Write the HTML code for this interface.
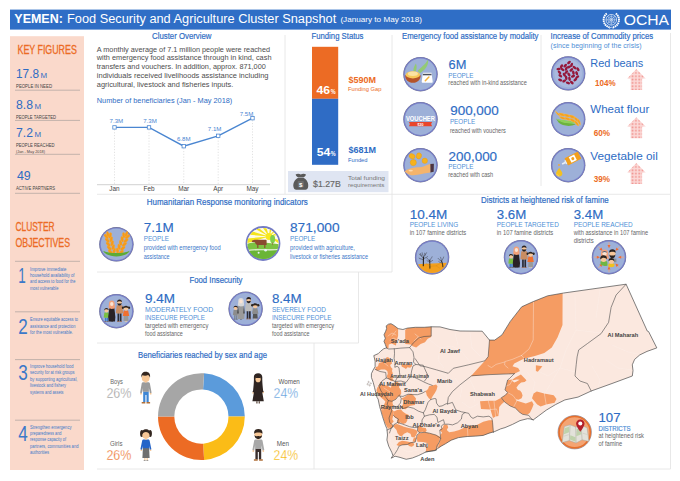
<!DOCTYPE html>
<html><head><meta charset="utf-8"><title>Yemen FSAC Snapshot</title>
<style>
html,body{margin:0;padding:0;background:#fff;}
body{width:680px;height:481px;overflow:hidden;font-family:"Liberation Sans",sans-serif;}
svg{display:block;font-family:"Liberation Sans",sans-serif;}
</style></head><body>
<svg width="680" height="481" viewBox="0 0 680 481">
<defs>
<pattern id="dots" width="1.43" height="1.43" patternUnits="userSpaceOnUse" shape-rendering="crispEdges">
  <rect width="1.43" height="1.43" fill="#fbd9d7"/>
  <rect x="0" y="0" width="1" height="1" fill="#f0918d"/>
</pattern>
<clipPath id="cc"><circle r="15.6"/></clipPath>
<g id="disc"><circle r="17.2" fill="#6f7088"/><circle r="16.9" fill="#787fc8"/><circle r="15.7" fill="#9db0d8"/></g>
<!-- up arrow, tip at (0,0), height 21 -->
<g id="uparrow"><path d="M0 0L9.2 9.4H5.7V21H-5.7V9.4H-9.2Z" fill="url(#dots)"/></g>

<!-- bowl / leaves / sack -->
<g id="i_food"><use href="#disc"/>
  <path d="M-3 -3.2C0 -7 5 -9.6 7.5 -14.8C8.6 -8.6 3.6 -3.6 -0.4 -1.2Z" fill="#93ca74"/>
  <path d="M-7.2 -3.4C-7.2 -6.5 -5.8 -9 -4.6 -10.8C-3.4 -8 -3.8 -5.4 -4.6 -3Z" fill="#93ca74"/>
  <path d="M-15.4 1H0.2C0.2 5.4 -3 8.6 -7.6 8.6C-12.2 8.6 -15.4 5.4 -15.4 1Z" fill="#b4532a"/>
  <ellipse cx="-7.6" cy="0.6" rx="7.2" ry="3.6" fill="#f7c95a"/>
  <ellipse cx="-7.6" cy="-0.4" rx="5" ry="2.2" fill="#fbe3a2"/>
  <path d="M2.4 -1.4H11L12.2 7.2C12.3 8.1 11.8 8.6 11 8.6H2.4C1.6 8.6 1.1 8.1 1.2 7.2Z" fill="#fff"/>
  <rect x="2.4" y="-0.4" width="8.6" height="1.5" fill="#4a4f5c"/>
  <path d="M4.8 6.6L8.4 2.8" stroke="#f5b23c" stroke-width="1.5" stroke-linecap="round"/>
</g>
<!-- voucher -->
<g id="i_voucher"><use href="#disc"/>
  <text x="-14.6" y="1.8" font-size="6.9" font-weight="bold" fill="#fff" textLength="29" lengthAdjust="spacingAndGlyphs">VOUCHER</text>
  <path d="M-11.6 2.7H11.6L10.6 4.9L11.6 7.1H-11.6L-10.6 4.9Z" fill="#e8452c"/>
  <text x="0" y="6.5" font-size="3.6" font-weight="bold" fill="#fff" text-anchor="middle">$20</text>
</g>
<!-- cash in hand -->
<g id="i_cash"><use href="#disc"/>
  <path d="M9.6 -1.2L13.4 -1.4L13.2 6.6L9.8 7.2Z" fill="#4b3542"/>
  <path d="M-15.8 6C-13 4.2 -9 2.6 -5.6 2.4C-2 2.2 0.6 2.2 3 1.4C5.4 0.4 7.6 -0.8 9.8 -1.2V7.2C6 8 1 8.6 -3 9.6C-6 10.4 -9 10.2 -11.4 9.2C-13.4 8.4 -15 7.4 -15.8 6Z" fill="#f4b46c"/>
  <ellipse cx="-9.8" cy="5.4" rx="2.2" ry="0.9" fill="#fbd9ad"/>
  <g fill="#f6b21c" stroke="#e79a12" stroke-width="0.4">
  <ellipse cx="-8.4" cy="-8.9" rx="3.1" ry="2.5" transform="rotate(25 -8.4 -8.9)"/>
  <ellipse cx="-1.6" cy="-9.3" rx="2.6" ry="3.1" transform="rotate(15 -1.6 -9.3)"/>
  <circle cx="-7.2" cy="-2.6" r="3.1"/>
  <circle cx="4.3" cy="-4.4" r="2.7"/></g>
</g>
<!-- red beans -->
<g id="i_beans"><use href="#disc"/><circle r="13.8" fill="#a9b9df"/>
  <g fill="#96183a"><ellipse cx="-7.9" cy="2.4" rx="2.2" ry="1.3" transform="rotate(39 -7.9 2.4)"/><ellipse cx="3.6" cy="9.2" rx="2.2" ry="1.3" transform="rotate(41 3.6 9.2)"/><ellipse cx="-6.7" cy="-7.1" rx="2.2" ry="1.3" transform="rotate(-56 -6.7 -7.1)"/><ellipse cx="-3.9" cy="1.4" rx="2.2" ry="1.3" transform="rotate(57 -3.9 1.4)"/><ellipse cx="3.4" cy="-8.5" rx="2.2" ry="1.3" transform="rotate(-70 3.4 -8.5)"/><ellipse cx="-5.7" cy="-3.9" rx="2.2" ry="1.3" transform="rotate(35 -5.7 -3.9)"/><ellipse cx="0.7" cy="1.1" rx="2.2" ry="1.3" transform="rotate(55 0.7 1.1)"/><ellipse cx="6.2" cy="-5.8" rx="2.2" ry="1.3" transform="rotate(38 6.2 -5.8)"/><ellipse cx="-3.9" cy="7.5" rx="2.2" ry="1.3" transform="rotate(-30 -3.9 7.5)"/><ellipse cx="-8.7" cy="-1.1" rx="2.2" ry="1.3" transform="rotate(47 -8.7 -1.1)"/><ellipse cx="4.8" cy="2.8" rx="2.2" ry="1.3" transform="rotate(-22 4.8 2.8)"/><ellipse cx="-2.0" cy="-4.7" rx="2.2" ry="1.3" transform="rotate(-67 -2.0 -4.7)"/><ellipse cx="9.1" cy="3.6" rx="2.2" ry="1.3" transform="rotate(-35 9.1 3.6)"/><ellipse cx="8.5" cy="-0.2" rx="2.2" ry="1.3" transform="rotate(67 8.5 -0.2)"/><ellipse cx="1.3" cy="5.4" rx="2.2" ry="1.3" transform="rotate(76 1.3 5.4)"/><ellipse cx="3.1" cy="-3.5" rx="2.2" ry="1.3" transform="rotate(-41 3.1 -3.5)"/><ellipse cx="-0.3" cy="9.5" rx="2.2" ry="1.3" transform="rotate(20 -0.3 9.5)"/><ellipse cx="-3.0" cy="-7.8" rx="2.2" ry="1.3" transform="rotate(-45 -3.0 -7.8)"/><ellipse cx="9.7" cy="-4.1" rx="2.2" ry="1.3" transform="rotate(54 9.7 -4.1)"/><ellipse cx="-2.0" cy="4.4" rx="2.2" ry="1.3" transform="rotate(78 -2.0 4.4)"/><ellipse cx="7.1" cy="6.3" rx="2.2" ry="1.3" transform="rotate(-40 7.1 6.3)"/><ellipse cx="-8.0" cy="6.6" rx="2.2" ry="1.3" transform="rotate(21 -8.0 6.6)"/><ellipse cx="-9.6" cy="-4.4" rx="2.2" ry="1.3" transform="rotate(-9 -9.6 -4.4)"/><ellipse cx="0.8" cy="-10.9" rx="2.2" ry="1.3" transform="rotate(-43 0.8 -10.9)"/><ellipse cx="0.7" cy="-6.5" rx="2.2" ry="1.3" transform="rotate(-19 0.7 -6.5)"/><ellipse cx="5.2" cy="-0.7" rx="2.2" ry="1.3" transform="rotate(78 5.2 -0.7)"/><ellipse cx="-1.8" cy="-1.3" rx="2.2" ry="1.3" transform="rotate(-43 -1.8 -1.3)"/></g>
</g>
<!-- wheat flour -->
<g id="i_wheat1"><use href="#disc"/>
  <path d="M-12 -0.2C-7 3.6 2 2.6 7.6 5.4C1 7.8 -6 6.6 -9.4 3.6Z" fill="#6db33f"/>
  <path d="M-12.2 -0.6C-5 1.8 2 0.6 8 4C1 4.6 -6 4.8 -12.2 -0.6Z" fill="#8ed05a"/>
  <g fill="#f5a01d" stroke="#fbc55c" stroke-width="0.35">
   <path d="M-13 -8.4C-11 -6.8 -9 -5.2 -7.6 -3.2C-10.4 -3.4 -12 -5.4 -13 -8.4Z"/>
   <path d="M-9.6 -5.8C-6.6 -6.6 -4 -5.6 -2.4 -3.6C-5 -2.4 -8 -3.2 -9.6 -5.8Z"/>
   <path d="M-9 -2.6C-6 -3 -3.6 -2 -2 0C-5 0.8 -7.6 -0.2 -9 -2.6Z"/>
   <path d="M-4.6 -5C-1.6 -5.8 1.2 -4.6 2.8 -2.6C0 -1.4 -3 -2.4 -4.6 -5Z"/>
   <path d="M-4 -1.8C-1 -2.2 1.6 -1 3.2 1C0.4 1.8 -2.6 0.8 -4 -1.8Z"/>
   <path d="M0.6 -4C3.6 -4.6 6.2 -3.2 7.6 -1C4.8 0 2 -1.2 0.6 -4Z"/>
   <path d="M1.2 -0.6C4.2 -0.8 6.6 0.6 8 3C5.2 3.6 2.4 2.2 1.2 -0.6Z"/>
   <path d="M5.6 -2.4C8.6 -1.8 10.6 0.4 11.2 3C8.4 2.8 6.2 0.8 5.6 -2.4Z"/>
   <path d="M6.2 1.2C8.8 2 10.4 4 10.8 6.8C8.2 6.2 6.4 4.2 6.2 1.2Z"/>
   <path d="M9.4 -0.6C11.6 1 12.6 3.4 12.2 6C10.2 4.6 9.2 2.2 9.4 -0.6Z"/>
  </g>
</g>
<!-- oil -->
<g id="i_oil"><use href="#disc"/>
  <g transform="rotate(-27 4.6 -6.6)">
   <rect x="-2.8" y="-10.6" width="15" height="8" rx="0.8" fill="#f29f1c"/>
   <rect x="1.6" y="-9.6" width="6" height="6" fill="#fff"/>
   <circle cx="4.6" cy="-6.6" r="1.5" fill="#f29f1c"/>
   <rect x="-4" y="-8.6" width="1.4" height="4" fill="#e9eef6"/>
   <rect x="-7.4" y="-7.4" width="3.6" height="1.6" fill="#e9eef6"/>
  </g>
  <circle cx="-9.2" cy="-0.2" r="0.9" fill="#f2a93a"/>
  <path d="M-9 2.6C-7.6 5 -5.8 6.6 -5.8 8.4C-5.8 10.2 -7.2 11.4 -9 11.4C-10.8 11.4 -12.2 10.2 -12.2 8.4C-12.2 6.6 -10.4 5 -9 2.6Z" fill="#f3c021"/>
  <path d="M-11.4 8.6C-11.2 9.8 -10.2 10.6 -9 10.6" stroke="#fbe07a" stroke-width="0.6" fill="none"/>
</g>
<g id="i_wheat2"><use href="#disc"/><g fill="#f59a1b" stroke="#f9b648" stroke-width="0.25"><ellipse cx="-6.0" cy="7.6" rx="2.9" ry="1.45" transform="rotate(-135 -6.0 7.6)"/><ellipse cx="-2.2" cy="6.6" rx="2.9" ry="1.45" transform="rotate(-75 -2.2 6.6)"/><ellipse cx="-7.1" cy="3.7" rx="2.9" ry="1.45" transform="rotate(-135 -7.1 3.7)"/><ellipse cx="-3.2" cy="2.7" rx="2.9" ry="1.45" transform="rotate(-75 -3.2 2.7)"/><ellipse cx="-8.1" cy="-0.1" rx="2.9" ry="1.45" transform="rotate(-135 -8.1 -0.1)"/><ellipse cx="-4.2" cy="-1.1" rx="2.9" ry="1.45" transform="rotate(-75 -4.2 -1.1)"/><ellipse cx="-9.1" cy="-4.0" rx="2.9" ry="1.45" transform="rotate(-135 -9.1 -4.0)"/><ellipse cx="-5.2" cy="-5.0" rx="2.9" ry="1.45" transform="rotate(-75 -5.2 -5.0)"/><ellipse cx="-10.1" cy="-7.8" rx="2.9" ry="1.45" transform="rotate(-135 -10.1 -7.8)"/><ellipse cx="-6.2" cy="-8.9" rx="2.9" ry="1.45" transform="rotate(-75 -6.2 -8.9)"/><ellipse cx="-8.6" cy="-10.1" rx="2.9" ry="1.30" transform="rotate(-105 -8.6 -10.1)"/><ellipse cx="1.1" cy="6.4" rx="2.9" ry="1.45" transform="rotate(-98 1.1 6.4)"/><ellipse cx="4.8" cy="7.9" rx="2.9" ry="1.45" transform="rotate(-38 4.8 7.9)"/><ellipse cx="2.7" cy="2.5" rx="2.9" ry="1.45" transform="rotate(-98 2.7 2.5)"/><ellipse cx="6.4" cy="4.0" rx="2.9" ry="1.45" transform="rotate(-38 6.4 4.0)"/><ellipse cx="4.2" cy="-1.4" rx="2.9" ry="1.45" transform="rotate(-98 4.2 -1.4)"/><ellipse cx="8.0" cy="0.1" rx="2.9" ry="1.45" transform="rotate(-38 8.0 0.1)"/><ellipse cx="5.8" cy="-5.2" rx="2.9" ry="1.45" transform="rotate(-98 5.8 -5.2)"/><ellipse cx="9.5" cy="-3.7" rx="2.9" ry="1.45" transform="rotate(-38 9.5 -3.7)"/><ellipse cx="7.4" cy="-9.1" rx="2.9" ry="1.45" transform="rotate(-98 7.4 -9.1)"/><ellipse cx="11.1" cy="-7.6" rx="2.9" ry="1.45" transform="rotate(-38 11.1 -7.6)"/><ellipse cx="10.0" cy="-10.2" rx="2.9" ry="1.30" transform="rotate(-68 10.0 -10.2)"/></g><path d="M-13.4 6.4C-8 9.6 8 9.6 13.4 6.4C9.4 14 -9.4 14 -13.4 6.4Z" fill="#5eab35"/></g>
<g id="i_cow"><circle r="16.4" fill="#fff" stroke="#747cc4" stroke-width="2"/>
 <g clip-path="url(#cc)">
  <rect x="-17" y="-17" width="34" height="20" fill="#fdfbe6"/>
  <g fill="#f4e41c"><path d="M6 -7L-17 -14L-17 -9Z"/><path d="M6 -7L-12 -17L-6 -17Z"/><path d="M6 -7L-1 -17L3 -17Z"/><path d="M6 -7L7 -17L10 -17Z"/><path d="M6 -7L-17 -5L-17 0Z"/><path d="M6 -7L17 -12L17 -9Z"/><path d="M6 -7L17 -3L17 1Z"/><path d="M6 -7L14 -17L16 -15Z"/></g>
  <circle cx="6" cy="-7" r="3.4" fill="#f7e81f"/>
  <path d="M-17 1C-8 -3 4 -1 17 1V17H-17Z" fill="#7cc242"/>
  <path d="M-17 8C-6 5 6 7 17 6V17H-17Z" fill="#6ab536"/>
  <path d="M-17 7.4C-6 4.8 6 7.4 17 5.8" stroke="#f3f7ee" stroke-width="1.1" fill="none"/>
  <ellipse cx="9.6" cy="-4.4" rx="2.5" ry="4.2" fill="#7fcf4e"/><rect x="9.3" y="-1" width="0.7" height="2.6" fill="#9a6a3c"/>
  <path d="M-8.4 -3.8H3C3.4 -3.8 3.6 -3.4 3.6 -3V1.4H2.4V4.4H1.2V1.6H-4.6V4.4H-5.8V1.4C-7 1.2 -7.6 0.2 -8 -1.2L-10.6 -1.6C-11.4 -1.8 -11.4 -2.6 -10.8 -3L-9.2 -3.6Z" fill="#8a4b30"/>
  <circle cx="2.6" cy="6.8" r="1.3" fill="#e8f4fb"/><circle cx="-4.4" cy="9.2" r="1" fill="#e8f4fb"/>
 </g></g>
<g id="i_fam"><use href="#disc"/><g transform="translate(-9.9,10.6)"><rect x="-1.6" y="-4.2" width="1.4" height="4" fill="#3e7cc9"/><rect x="0.2" y="-4.2" width="1.4" height="4" fill="#3e7cc9"/><rect x="-2" y="-0.5" width="1.8" height="0.6" fill="#8a5a3c"/><rect x="0.2" y="-0.5" width="1.8" height="0.6" fill="#8a5a3c"/><path d="M-2.1 -9.4H2.1L2.8 -4.4H1.9V-4H-1.9V-4.4H-2.8Z" fill="#7ac043"/><circle cy="-11.4" r="2" fill="#f7c79a"/><path d="M-2.1 -11.4C-2.3 -13 -1.2 -13.7 0 -13.7C1.4 -13.7 2.3 -12.8 2.1 -11.4C1.4 -12.2 0 -12.6 -1.2 -12.4Z" fill="#2b2320"/></g><g transform="translate(-4.6,10.8)"><rect x="-1" y="-0.8" width="0.8" height="0.8" fill="#555"/><rect x="0.3" y="-0.8" width="0.8" height="0.8" fill="#555"/><path d="M-2.4 -15L2.4 -15L3.6 -5L3.2 -0.6H-3.2L-3.6 -5Z" fill="#2a2226"/><path d="M0 -21.6C2 -21.6 2.9 -20.2 2.8 -18.4C2.8 -16.8 3.4 -15.4 3 -14C2 -12.8 -2 -12.8 -3 -14C-3.4 -15.4 -2.8 -16.8 -2.8 -18.4C-2.9 -20.2 -2 -21.6 0 -21.6Z" fill="#f2a079"/><ellipse cy="-18" rx="1.7" ry="2" fill="#fbe3d2"/></g><g transform="translate(3.1,10.4)"><rect x="-2" y="-8.4" width="1.7" height="8" fill="#2b2b33"/><rect x="0.3" y="-8.4" width="1.7" height="8" fill="#2b2b33"/><rect x="-2.4" y="-0.6" width="2.2" height="0.7" fill="#9a5a34"/><rect x="0.2" y="-0.6" width="2.2" height="0.7" fill="#9a5a34"/><path d="M-2.8 -16.4H2.8L3.7 -8.4H2.5V-8H-2.5V-8.4H-3.7Z" fill="#c98d62"/><circle cy="-19" r="2.3" fill="#f7c79a"/><path d="M-2.3 -19.4C-2.6 -21.4 -1.4 -22.2 0 -22.2C1.6 -22.2 2.6 -21.2 2.3 -19.4C1.4 -20.4 -1 -20.6 -2.3 -19.4Z" fill="#2b2320"/><path d="M-2.2 -18.6C-2 -16.6 -1 -16 0 -16C1 -16 2 -16.6 2.2 -18.6C1.4 -17.8 -1.4 -17.8 -2.2 -18.6Z" fill="#2b2320"/></g><g transform="translate(9.6,10.8) scale(1.1)"><rect x="-1" y="-1.2" width="0.7" height="1.2" fill="#f7c79a"/><rect x="0.3" y="-1.2" width="0.7" height="1.2" fill="#f7c79a"/><path d="M-1.9 -5.6H1.9L2.3 -0.9H-2.3Z" fill="#9a9a9a"/><path d="M-2 -10.4H2L2.9 -5.4H-2.9Z" fill="#f07030"/><circle cx="-2.6" cy="-13" r="1.2" fill="#2b2320"/><circle cx="2.6" cy="-13" r="1.2" fill="#2b2320"/><circle cy="-12.4" r="2.1" fill="#f7c79a"/><path d="M-2.2 -12.4C-2.4 -14.2 -1.2 -14.8 0 -14.8C1.4 -14.8 2.4 -14 2.2 -12.4C1 -13.4 -1 -13.4 -2.2 -12.4Z" fill="#2b2320"/></g></g>
<g id="i_famg"><use href="#disc"/><g transform="translate(-9.9,10.6)"><rect x="-1.6" y="-4.2" width="1.4" height="4" fill="#7d8794"/><rect x="0.2" y="-4.2" width="1.4" height="4" fill="#7d8794"/><rect x="-2" y="-0.5" width="1.8" height="0.6" fill="#666"/><rect x="0.2" y="-0.5" width="1.8" height="0.6" fill="#666"/><path d="M-2.1 -9.4H2.1L2.8 -4.4H1.9V-4H-1.9V-4.4H-2.8Z" fill="#8c8c8c"/><circle cy="-11.4" r="2" fill="#f7c79a"/><path d="M-2.1 -11.4C-2.3 -13 -1.2 -13.7 0 -13.7C1.4 -13.7 2.3 -12.8 2.1 -11.4C1.4 -12.2 0 -12.6 -1.2 -12.4Z" fill="#2b2320"/></g><g transform="translate(-4.6,10.8)"><rect x="-1" y="-0.8" width="0.8" height="0.8" fill="#555"/><rect x="0.3" y="-0.8" width="0.8" height="0.8" fill="#555"/><path d="M-2.4 -15L2.4 -15L3.6 -5L3.2 -0.6H-3.2L-3.6 -5Z" fill="#9a9a9a"/><path d="M0 -21.6C2 -21.6 2.9 -20.2 2.8 -18.4C2.8 -16.8 3.4 -15.4 3 -14C2 -12.8 -2 -12.8 -3 -14C-3.4 -15.4 -2.8 -16.8 -2.8 -18.4C-2.9 -20.2 -2 -21.6 0 -21.6Z" fill="#d9d9d9"/><ellipse cy="-18" rx="1.7" ry="2" fill="#fbe3d2"/><path d="M-3 -14.4L-2.4 -6L-3.6 -6Z M3 -14.4L2.4 -6L3.6 -6Z" fill="#2b2b2b"/></g><g transform="translate(3.1,10.4)"><rect x="-2" y="-8.4" width="1.7" height="8" fill="#2b2b33"/><rect x="0.3" y="-8.4" width="1.7" height="8" fill="#2b2b33"/><rect x="-2.4" y="-0.6" width="2.2" height="0.7" fill="#9a5a34"/><rect x="0.2" y="-0.6" width="2.2" height="0.7" fill="#9a5a34"/><path d="M-2.8 -16.4H2.8L3.7 -8.4H2.5V-8H-2.5V-8.4H-3.7Z" fill="#bdbdbd"/><circle cy="-19" r="2.3" fill="#f7c79a"/><path d="M-2.3 -19.4C-2.6 -21.4 -1.4 -22.2 0 -22.2C1.6 -22.2 2.6 -21.2 2.3 -19.4C1.4 -20.4 -1 -20.6 -2.3 -19.4Z" fill="#2b2320"/><path d="M-2.2 -18.6C-2 -16.6 -1 -16 0 -16C1 -16 2 -16.6 2.2 -18.6C1.4 -17.8 -1.4 -17.8 -2.2 -18.6Z" fill="#2b2320"/></g><g transform="translate(9.6,10.8) scale(1.1)"><rect x="-1" y="-1.2" width="0.7" height="1.2" fill="#f7c79a"/><rect x="0.3" y="-1.2" width="0.7" height="1.2" fill="#f7c79a"/><path d="M-1.9 -5.6H1.9L2.3 -0.9H-2.3Z" fill="#555"/><path d="M-2 -10.4H2L2.9 -5.4H-2.9Z" fill="#8c8c8c"/><circle cx="-2.6" cy="-13" r="1.2" fill="#2b2320"/><circle cx="2.6" cy="-13" r="1.2" fill="#2b2320"/><circle cy="-12.4" r="2.1" fill="#f7c79a"/><path d="M-2.2 -12.4C-2.4 -14.2 -1.2 -14.8 0 -14.8C1.4 -14.8 2.4 -14 2.2 -12.4C1 -13.4 -1 -13.4 -2.2 -12.4Z" fill="#2b2320"/></g></g>
<g id="i_drought"><use href="#disc"/><g clip-path="url(#cc)">
 <path d="M-17 7L0 6.2L17 5.4V17H-17Z" fill="#f3a01e"/>
 <path d="M-6 6L-2 9L4 8.4L9 5.4M-2 9L-3 13M4 8.4L8 11" stroke="#d98a14" stroke-width="0.4" fill="none"/>
 <g stroke="#26221f" fill="none" stroke-linecap="round" transform="translate(0,0.8)">
  <path d="M-8.8 7.6C-8.6 4 -8.8 1 -8.6 -1" stroke-width="1.1"/>
  <path d="M-8.6 0C-10 -2 -11.6 -2.4 -12.6 -4M-8.6 -0.6C-8 -3 -6.4 -3.6 -5.6 -5.4M-8.7 1.6C-10.6 0.6 -12 0.8 -13 0M-8.6 -1C-9 -3.4 -10 -4 -10 -5.4M-8.6 0.6C-7 -0.6 -5.6 -0.4 -4.6 -1.6M-10.6 -2.2L-11.6 -4.6M-7 -3L-7.4 -5" stroke-width="0.45"/>
  <path d="M-2.2 10C-2.2 6 -2.4 3.6 -2.4 2" stroke-width="0.9"/>
  <path d="M-2.4 3C-3.6 1.4 -4.6 1.2 -5 0M-2.4 2.4C-1.6 0.4 -0.6 0.2 0 -1.4M-2.4 4C-1.2 3 -0.4 3.2 0.6 2.2M-2.4 3.6C-3.4 3 -4.4 3.2 -5.2 2.4" stroke-width="0.4"/>
  <path d="M10.8 8.6C10.6 5.6 10 4 9.4 2.8" stroke-width="0.9"/>
  <path d="M9.8 3.6C8.4 2 7 1.8 6 0.2M9.6 3C10 1 11.4 0.4 11.6 -1.2M10.2 5C8.8 4.2 7.6 4.4 6.6 3.4M9.4 2.6C8.8 1 9 0 8.4 -1" stroke-width="0.4"/>
 </g></g></g>
<g id="i_reached"><use href="#disc"/><g transform="rotate(0)"><path d="M0 -15V-10" stroke="#f4a27c" stroke-width="0.8"/><path d="M-1.5 -12.2L0 -9L1.5 -12.2Z" fill="#ee6a35"/></g><g transform="rotate(45)"><path d="M0 -15V-10" stroke="#f4a27c" stroke-width="0.8"/><path d="M-1.5 -12.2L0 -9L1.5 -12.2Z" fill="#ee6a35"/></g><g transform="rotate(90)"><path d="M0 -15V-10" stroke="#f4a27c" stroke-width="0.8"/><path d="M-1.5 -12.2L0 -9L1.5 -12.2Z" fill="#ee6a35"/></g><g transform="rotate(135)"><path d="M0 -15V-10" stroke="#f4a27c" stroke-width="0.8"/><path d="M-1.5 -12.2L0 -9L1.5 -12.2Z" fill="#ee6a35"/></g><g transform="rotate(180)"><path d="M0 -15V-10" stroke="#f4a27c" stroke-width="0.8"/><path d="M-1.5 -12.2L0 -9L1.5 -12.2Z" fill="#ee6a35"/></g><g transform="rotate(225)"><path d="M0 -15V-10" stroke="#f4a27c" stroke-width="0.8"/><path d="M-1.5 -12.2L0 -9L1.5 -12.2Z" fill="#ee6a35"/></g><g transform="rotate(270)"><path d="M0 -15V-10" stroke="#f4a27c" stroke-width="0.8"/><path d="M-1.5 -12.2L0 -9L1.5 -12.2Z" fill="#ee6a35"/></g><g transform="rotate(315)"><path d="M0 -15V-10" stroke="#f4a27c" stroke-width="0.8"/><path d="M-1.5 -12.2L0 -9L1.5 -12.2Z" fill="#ee6a35"/></g><path d="M-4.4 -7.6C-1.8 -7.6 -0.6 -5.8 -0.8 -3.4C-0.8 -1.6 0 0 0 1.6H-8.6C-8.6 0 -8 -1.6 -8 -3.4C-8.2 -5.8 -7 -7.6 -4.4 -7.6Z" fill="#f1a07c"/><ellipse cx="-4.4" cy="-3.6" rx="2.1" ry="2.4" fill="#fbe3d2"/><path d="M-6.6 -5.4C-5 -6.6 -3.8 -6.6 -2.2 -5.4L-2.4 -4.4C-3.8 -5.4 -5 -5.4 -6.4 -4.4Z" fill="#555f73"/><circle cx="3.4" cy="-3.6" r="3.1" fill="#f7c79a"/><path d="M0.2 -4.4C-0.2 -6.9 1.6 -7.9 3.4 -7.9C5.6 -7.9 7 -6.5 6.6 -4.4C5.4 -5.8 1.8 -6 0.2 -4.4Z" fill="#2b2320"/><path d="M0.4 -2.8C0.6 0 2 0.9 3.4 0.9C4.8 0.9 6.2 0 6.4 -2.8C5.2 -1.2 1.6 -1.2 0.4 -2.8Z" fill="#2b2320"/><path d="M0 1.4H7.4V5H0Z" fill="#8a8f94"/><path d="M-8.6 4.2C-7 3.2 -3.4 3.2 -1.8 4.2L-1.4 8.2C-4 9.2 -6.6 8.8 -8.4 7.4Z" fill="#6fb544"/><circle cx="-5.4" cy="1.8" r="2.9" fill="#f7c79a"/><path d="M-8.6 2.4C-9.2 -1 -7.4 -2 -5.4 -2C-3 -2 -1.6 -0.6 -2.2 2.4C-3 0.4 -6.6 -0.4 -8.6 2.4Z" fill="#2b2320"/><path d="M-0.6 6.6C1 5.8 4 5.8 5.6 6.6L5.2 9.4C3.2 10.2 1.2 10.2 -0.8 9.4Z" fill="#f2c21c"/><circle cx="2.4" cy="4" r="2.6" fill="#f7c79a"/><path d="M-0.4 4.2C-0.8 1.6 0.8 0.8 2.4 0.8C4.4 0.8 5.6 2 5.2 4.2C4.2 2.6 1 2.4 -0.4 4.2Z" fill="#2b2320"/></g>
<g id="i_map"><circle r="16.7" fill="#f4a473" stroke="#6f6f86" stroke-width="0.6"/><circle r="15.6" fill="none" stroke="#e66f2c" stroke-width="1.5"/>
 <path d="M-10.4 -5.6L-4.6 -7.4L1 -5.2L6.4 -7L12.4 -4.4L14.2 9.2L7.4 7.6L1.4 10.8L-5.4 8.4L-12.6 10.4Z" fill="#e3e2da" stroke="#a9a79c" stroke-width="0.5"/>
 <path d="M-4.6 -7.4L-5.4 8.4M1 -5.2L1.4 10.8M6.4 -7L7.4 7.6" stroke="#a9a79c" stroke-width="0.5"/>
 <path d="M-10 -4L-5.4 -5.6L-5.6 0L-10.8 2Z M2 -3L6 -4.6L6.6 2L1.6 4Z M-4.4 3L0.8 5L1 9.6L-4.8 7.4Z" fill="#b9cfa2" opacity="0.85"/>
 <path d="M-10.8 4L-5.6 2.4M1.4 0L6.4 -1.6M8 1L13 2.4" stroke="#c9c7bc" stroke-width="0.6"/>
 <path d="M5.6 -12.6C8 -12.6 9.8 -10.8 9.8 -8.6C9.8 -5.6 5.6 -0.4 5.6 -0.4C5.6 -0.4 1.4 -5.6 1.4 -8.6C1.4 -10.8 3.2 -12.6 5.6 -12.6Z" fill="#b3202b"/><circle cx="5.6" cy="-8.6" r="2" fill="#fff"/>
</g>
<g id="f_boy">
 <path d="M-2.5 -12H3V-1.3H0.8V-8.4H-0.3V-1.3H-2.5Z" fill="#3e86d4"/>
 <path d="M-4 -1.4H-0.4V0H-4Z M0.8 -1.4H4.4V0H0.8Z" fill="#b0703a"/>
 <circle cx="-4.7" cy="-9.7" r="0.9" fill="#f7c796"/><circle cx="5" cy="-9.7" r="0.9" fill="#f7c796"/>
 <path d="M-2.6 -21.2H2.8C3.6 -21.2 4 -20.6 4.2 -19.8L5.9 -10.6L4.2 -10.2L3.2 -15.4V-11.6H-3V-15.4L-3.9 -10.2L-5.6 -10.6L-4 -19.8C-3.8 -20.6 -3.4 -21.2 -2.6 -21.2Z" fill="#9b9b9b"/>
 <rect x="-0.9" y="-22.4" width="1.8" height="1.6" fill="#f7c796"/>
 <circle cx="0" cy="-25.4" r="3.9" fill="#f7c796"/>
 <path d="M-4.3 -25.6C-5 -29.8 -2.6 -31.6 0 -31.6C3 -31.6 5 -29.6 4.3 -25.6C3.8 -27.2 3.2 -28 2.4 -28.4C0.6 -27.4 -2 -27.6 -3.2 -28.2C-3.8 -27.6 -4.1 -26.8 -4.3 -25.6Z" fill="#33261f"/>
</g>
<g id="f_girl">
 <rect x="-1.6" y="-2.6" width="1.1" height="2.4" fill="#f7c796"/><rect x="0.7" y="-2.6" width="1.1" height="2.4" fill="#f7c796"/>
 <path d="M-2.2 -0.5H-0.3V0H-2.2Z M0.5 -0.5H2.4V0H0.5Z" fill="#444"/>
 <path d="M-3 -12.6H3.2L3.7 -2.4H-3.5Z" fill="#6f6f6f"/>
 <circle cx="-4.6" cy="-10.4" r="0.85" fill="#f7c796"/><circle cx="4.7" cy="-10.4" r="0.85" fill="#f7c796"/>
 <path d="M-2.4 -21H2.4C3.2 -21 3.6 -20.4 3.8 -19.6L5.5 -11.2L3.9 -10.8L3.2 -14.6V-12.2H-3.1V-14.6L-3.9 -10.8L-5.5 -11.2L-3.8 -19.6C-3.6 -20.4 -3.2 -21 -2.4 -21Z" fill="#2464c8"/>
 <rect x="-0.8" y="-22.2" width="1.6" height="1.5" fill="#f7c796"/>
 <ellipse cx="-4.1" cy="-27" rx="1.7" ry="3.5" fill="#33261f"/><ellipse cx="4.3" cy="-27" rx="1.7" ry="3.5" fill="#33261f"/>
 <circle cx="0" cy="-25.4" r="3.7" fill="#f7c796"/>
 <path d="M-4 -25.6C-4.6 -29.6 -2.4 -31.2 0 -31.2C2.8 -31.2 4.6 -29.4 4 -25.6C3.2 -27.6 1.6 -28.6 0 -28.6C-1.8 -28.6 -3.2 -27.6 -4 -25.6Z" fill="#33261f"/>
</g>
<g id="f_woman">
 <path d="M-1.9 -2.2H-0.5V0H-1.9Z M0.5 -2.2H1.9V0H0.5Z" fill="#6b5a50"/>
 <circle cx="-5" cy="-10.6" r="0.85" fill="#f7c796"/><circle cx="5.1" cy="-11" r="0.85" fill="#f7c796"/>
 <path d="M0 -30.2C3 -30.2 4.4 -28.2 4.2 -25.4C4 -22 4.6 -17 5 -13L5.6 -11.6L4.2 -10.8L5.7 -2.2H-5.7L-4.2 -10.8L-5.6 -11.6L-5 -13C-4.6 -17 -4 -22 -4.2 -25.4C-4.4 -28.2 -3 -30.2 0 -30.2Z" fill="#2f2522"/>
 <ellipse cx="0" cy="-24.2" rx="2.6" ry="3.1" fill="#f7c796"/>
 <path d="M-2.8 -25.4C-2.6 -27 -1.4 -27.6 0 -27.6C1.4 -27.6 2.6 -27 2.8 -25.4Z" fill="#2f2522"/>
</g>
<g id="f_man">
 <path d="M-2.9 -12H2.9V-1.3H0.6V-8.6H-0.5V-1.3H-2.9Z" fill="#3a2e2c"/>
 <path d="M-4.4 -1.4H-0.6V0H-4.4Z M0.8 -1.4H4.5V0H0.8Z" fill="#b0703a"/>
 <circle cx="-5" cy="-9.7" r="0.9" fill="#f7c796"/><circle cx="5" cy="-9.7" r="0.9" fill="#f7c796"/>
 <path d="M-2.8 -21.2H2.9C3.7 -21.2 4.1 -20.6 4.3 -19.8L6 -10.6L4.2 -10.2L3.3 -15.4V-11.6H-3.2V-15.4L-4.1 -10.2L-5.9 -10.6L-4.2 -19.8C-4 -20.6 -3.6 -21.2 -2.8 -21.2Z" fill="#a8a8a8"/>
 <rect x="-0.9" y="-22.6" width="1.8" height="1.6" fill="#f7c796"/>
 <circle cx="0" cy="-26.6" r="3.9" fill="#f7c796"/>
 <path d="M-4.1 -27C-4.6 -30.4 -2.4 -31.6 0 -31.6C2.8 -31.6 4.6 -30.2 4.1 -27C3 -28.6 -2.6 -28.8 -4.1 -27Z" fill="#33261f"/>
 <path d="M-3.8 -25.8C-3.6 -22.6 -1.6 -21.8 0 -21.8C1.6 -21.8 3.6 -22.6 3.8 -25.8C2.6 -24.2 1 -24.6 0 -24.6C-1 -24.6 -2.6 -24.2 -3.8 -25.8Z" fill="#33261f"/>
</g>
</defs>

<rect x="10" y="9.6" width="661" height="20" fill="#2f6ec6"/>
<text x="14.3" y="22.6" font-size="12.5" fill="#fff" textLength="48.6" lengthAdjust="spacingAndGlyphs" font-weight="bold">YEMEN:</text>
<text x="67" y="22.6" font-size="12.5" fill="#fff" textLength="269.2" lengthAdjust="spacingAndGlyphs">Food Security and Agriculture Cluster Snapshot</text>
<text x="340.4" y="22.4" font-size="7.6" fill="#fff" textLength="81.5" lengthAdjust="spacingAndGlyphs">(January to May 2018)</text>
<text x="623.7" y="25.4" font-size="15.4" fill="#fff" textLength="45.3" lengthAdjust="spacingAndGlyphs">OCHA</text>
<g transform="translate(611.3,19.8)" fill="none" stroke="#fff"><circle r="5.3" stroke-width="0.7"/><circle r="3.4" stroke-width="0.45"/><circle r="1.6" stroke-width="0.45"/><path d="M-5.3 0H5.3M0 -5.3V5.3M-3.75 -3.75L3.75 3.75M-3.75 3.75L3.75 -3.75" stroke-width="0.4"/><path d="M-1.60 7.53A7.7 7.7 0 0 1 -4.08 -6.53" stroke-width="1.9" stroke-dasharray="1.5 0.5"/><path d="M1.60 7.53A7.7 7.7 0 0 0 4.08 -6.53" stroke-width="1.9" stroke-dasharray="1.5 0.5"/><path d="M-2.2 8.6L0 7.4L2.2 8.6" stroke-width="0.7"/></g>
<line x1="285" y1="35" x2="285" y2="194" stroke="#e2e2e2" stroke-width="0.8"/>
<line x1="392" y1="35" x2="392" y2="272" stroke="#e2e2e2" stroke-width="0.8"/>
<line x1="541" y1="35" x2="541" y2="186" stroke="#e2e2e2" stroke-width="0.8"/>
<line x1="670.5" y1="33" x2="670.5" y2="469" stroke="#e2e2e2" stroke-width="0.8"/>
<line x1="97" y1="194.3" x2="670" y2="194.3" stroke="#e2e2e2" stroke-width="0.8"/>
<line x1="97" y1="272" x2="392" y2="272" stroke="#e2e2e2" stroke-width="0.8"/>
<line x1="358.5" y1="272" x2="358.5" y2="343" stroke="#e2e2e2" stroke-width="0.8"/>
<line x1="97" y1="343" x2="358.5" y2="343" stroke="#e2e2e2" stroke-width="0.8"/>
<line x1="314" y1="343" x2="314" y2="469" stroke="#e2e2e2" stroke-width="0.8"/>
<line x1="97" y1="469" x2="670.5" y2="469" stroke="#e2e2e2" stroke-width="0.8"/>
<rect x="10" y="36.2" width="74" height="433.8" fill="#fad9cb"/>
<text x="17.5" y="53.8" font-size="12" fill="#ec6b24" textLength="59.3" lengthAdjust="spacingAndGlyphs" stroke="#ec6b24" stroke-width="0.3">KEY FIGURES</text>
<text x="16" y="78" font-size="12.4" fill="#2e6cc4" textLength="23" lengthAdjust="spacingAndGlyphs">17.8</text>
<text x="40.4" y="78" font-size="7.4" fill="#2e6cc4" textLength="6.6" lengthAdjust="spacingAndGlyphs">M</text>
<text x="16" y="88" font-size="5.8" fill="#444" textLength="36" lengthAdjust="spacingAndGlyphs">PEOPLE IN NEED</text>
<line x1="15" y1="90.2" x2="80" y2="90.2" stroke="#8a8a8a" stroke-width="0.5"/>
<text x="16" y="108.5" font-size="12.4" fill="#2e6cc4" textLength="17" lengthAdjust="spacingAndGlyphs">8.8</text>
<text x="34.4" y="108.5" font-size="7.4" fill="#2e6cc4" textLength="6.6" lengthAdjust="spacingAndGlyphs">M</text>
<text x="16" y="118.5" font-size="5.8" fill="#444" textLength="40" lengthAdjust="spacingAndGlyphs">PEOPLE TARGETED</text>
<line x1="15" y1="120.4" x2="80" y2="120.4" stroke="#8a8a8a" stroke-width="0.5"/>
<text x="16" y="137" font-size="12.4" fill="#2e6cc4" textLength="17" lengthAdjust="spacingAndGlyphs">7.2</text>
<text x="34.4" y="137" font-size="7.4" fill="#2e6cc4" textLength="6.6" lengthAdjust="spacingAndGlyphs">M</text>
<text x="16" y="147" font-size="5.8" fill="#444" textLength="38.5" lengthAdjust="spacingAndGlyphs">PEOPLE REACHED</text>
<text x="16" y="152.8" font-size="4.4" fill="#444" textLength="29" lengthAdjust="spacingAndGlyphs">(Jan - May 2018)</text>
<line x1="15" y1="154.3" x2="80" y2="154.3" stroke="#8a8a8a" stroke-width="0.5"/>
<text x="16.9" y="180.2" font-size="12.4" fill="#2e6cc4" textLength="13.8" lengthAdjust="spacingAndGlyphs">49</text>
<text x="16" y="190.2" font-size="5.8" fill="#444" textLength="39" lengthAdjust="spacingAndGlyphs">ACTIVE PARTNERS</text>
<line x1="15" y1="193.3" x2="80" y2="193.3" stroke="#8a8a8a" stroke-width="0.5"/>
<text x="15.5" y="231.3" font-size="12" fill="#ec6b24" textLength="39" lengthAdjust="spacingAndGlyphs" stroke="#ec6b24" stroke-width="0.3">CLUSTER</text>
<text x="15.5" y="247" font-size="12" fill="#ec6b24" textLength="54.5" lengthAdjust="spacingAndGlyphs" stroke="#ec6b24" stroke-width="0.3">OBJECTIVES</text>
<line x1="15" y1="261.3" x2="80" y2="261.3" stroke="#8a8a8a" stroke-width="0.5"/>
<text x="18.3" y="282.5" font-size="21.5" fill="#3b78c9" textLength="7.5" lengthAdjust="spacingAndGlyphs">1</text>
<text x="30" y="270.6" font-size="5.2" fill="#3b78c9" textLength="36.5" lengthAdjust="spacingAndGlyphs">Improve immediate</text>
<text x="30" y="276.90000000000003" font-size="5.2" fill="#3b78c9" textLength="44.5" lengthAdjust="spacingAndGlyphs">household availability of</text>
<text x="30" y="283.20000000000005" font-size="5.2" fill="#3b78c9" textLength="45.5" lengthAdjust="spacingAndGlyphs">and access to food for the</text>
<text x="30" y="289.5" font-size="5.2" fill="#3b78c9" textLength="28.5" lengthAdjust="spacingAndGlyphs">most vulnerable</text>
<line x1="15" y1="311.8" x2="80" y2="311.8" stroke="#8a8a8a" stroke-width="0.5"/>
<text x="18.3" y="333.8" font-size="21.5" fill="#3b78c9" textLength="9.5" lengthAdjust="spacingAndGlyphs">2</text>
<text x="30" y="321.3" font-size="5.2" fill="#3b78c9" textLength="48" lengthAdjust="spacingAndGlyphs">Ensure equitable access to</text>
<text x="30" y="327.6" font-size="5.2" fill="#3b78c9" textLength="45.5" lengthAdjust="spacingAndGlyphs">assistance and protection</text>
<text x="30" y="333.90000000000003" font-size="5.2" fill="#3b78c9" textLength="43" lengthAdjust="spacingAndGlyphs">for the most vulnerable.</text>
<line x1="15" y1="359.6" x2="80" y2="359.6" stroke="#8a8a8a" stroke-width="0.5"/>
<text x="18.3" y="380.2" font-size="21.5" fill="#3b78c9" textLength="9.5" lengthAdjust="spacingAndGlyphs">3</text>
<text x="30" y="368.0" font-size="5.2" fill="#3b78c9" textLength="43.5" lengthAdjust="spacingAndGlyphs">Improve household food</text>
<text x="30" y="374.4" font-size="5.2" fill="#3b78c9" textLength="44.5" lengthAdjust="spacingAndGlyphs">security for at risk groups</text>
<text x="30" y="380.8" font-size="5.2" fill="#3b78c9" textLength="47.5" lengthAdjust="spacingAndGlyphs">by supporting agricultural,</text>
<text x="30" y="387.2" font-size="5.2" fill="#3b78c9" textLength="36" lengthAdjust="spacingAndGlyphs">livestock and fishery</text>
<text x="30" y="393.6" font-size="5.2" fill="#3b78c9" textLength="33.5" lengthAdjust="spacingAndGlyphs">systems and assets</text>
<line x1="15" y1="420.2" x2="80" y2="420.2" stroke="#8a8a8a" stroke-width="0.5"/>
<text x="18.3" y="441.3" font-size="21.5" fill="#3b78c9" textLength="9.5" lengthAdjust="spacingAndGlyphs">4</text>
<text x="30" y="428.8" font-size="5.2" fill="#3b78c9" textLength="41.5" lengthAdjust="spacingAndGlyphs">Strengthen emergency</text>
<text x="30" y="435.1" font-size="5.2" fill="#3b78c9" textLength="31.5" lengthAdjust="spacingAndGlyphs">preparedness and</text>
<text x="30" y="441.40000000000003" font-size="5.2" fill="#3b78c9" textLength="36" lengthAdjust="spacingAndGlyphs">response capacity of</text>
<text x="30" y="447.7" font-size="5.2" fill="#3b78c9" textLength="48.5" lengthAdjust="spacingAndGlyphs">partners, communities and</text>
<text x="30" y="454.0" font-size="5.2" fill="#3b78c9" textLength="19" lengthAdjust="spacingAndGlyphs">authorities</text>
<text x="152" y="38.9" font-size="9.6" fill="#2e6cc4" textLength="59.5" lengthAdjust="spacingAndGlyphs" stroke="#2e6cc4" stroke-width="0.2">Cluster Overview</text>
<text x="96.8" y="51.6" font-size="7.3" fill="#4d4d4d" textLength="173.2" lengthAdjust="spacingAndGlyphs">A monthly average of 7.1 million people were reached</text>
<text x="96.8" y="60.42" font-size="7.3" fill="#4d4d4d" textLength="174.7" lengthAdjust="spacingAndGlyphs">with emergency food assistance through in kind, cash</text>
<text x="96.8" y="69.24000000000001" font-size="7.3" fill="#4d4d4d" textLength="169" lengthAdjust="spacingAndGlyphs">transfers and vouchers. In addition, approx. 871,000</text>
<text x="96.8" y="78.06" font-size="7.3" fill="#4d4d4d" textLength="171.7" lengthAdjust="spacingAndGlyphs">individuals received  livelihoods assistance including</text>
<text x="96.8" y="86.88" font-size="7.3" fill="#4d4d4d" textLength="136.5" lengthAdjust="spacingAndGlyphs">agricultural, livestock and fisheries inputs.</text>
<text x="96.8" y="102.6" font-size="7.4" fill="#2e6cc4" textLength="135.5" lengthAdjust="spacingAndGlyphs">Number of beneficiaries (Jan - May 2018)</text>
<line x1="114.5" y1="129.4" x2="114.5" y2="184.5" stroke="#cfcfcf" stroke-width="0.6" stroke-dasharray="1.2 1.6"/>
<line x1="149" y1="129.4" x2="149" y2="184.5" stroke="#cfcfcf" stroke-width="0.6" stroke-dasharray="1.2 1.6"/>
<line x1="183.75" y1="148.2" x2="183.75" y2="184.5" stroke="#cfcfcf" stroke-width="0.6" stroke-dasharray="1.2 1.6"/>
<line x1="218.2" y1="137.8" x2="218.2" y2="184.5" stroke="#cfcfcf" stroke-width="0.6" stroke-dasharray="1.2 1.6"/>
<line x1="252.5" y1="120.2" x2="252.5" y2="184.5" stroke="#cfcfcf" stroke-width="0.6" stroke-dasharray="1.2 1.6"/>
<line x1="97" y1="184.7" x2="270" y2="184.7" stroke="#bdbdbd" stroke-width="0.7"/>
<polyline fill="none" stroke="#4a86d1" stroke-width="1.4" points="114.5,127.4 149,127.4 183.75,146.2 218.2,135.8 252.5,118.2"/>
<rect x="112.8" y="125.7" width="3.4" height="3.4" fill="#fff" stroke="#4a86d1" stroke-width="0.8"/>
<text x="109.60000000000001" y="123.3" font-size="5.8" fill="#4a86d1" textLength="13.6" lengthAdjust="spacingAndGlyphs">7.3M</text>
<text x="114.5" y="191.4" font-size="6.4" fill="#444" text-anchor="middle">Jan</text>
<rect x="147.3" y="125.7" width="3.4" height="3.4" fill="#fff" stroke="#4a86d1" stroke-width="0.8"/>
<text x="143.2" y="123.3" font-size="5.8" fill="#4a86d1" textLength="13.6" lengthAdjust="spacingAndGlyphs">7.3M</text>
<text x="149" y="191.4" font-size="6.4" fill="#444" text-anchor="middle">Feb</text>
<rect x="182.05" y="144.5" width="3.4" height="3.4" fill="#fff" stroke="#4a86d1" stroke-width="0.8"/>
<text x="176.95" y="140.5" font-size="5.8" fill="#4a86d1" textLength="13.6" lengthAdjust="spacingAndGlyphs">6.8M</text>
<text x="183.75" y="191.4" font-size="6.4" fill="#444" text-anchor="middle">Mar</text>
<rect x="216.5" y="134.10000000000002" width="3.4" height="3.4" fill="#fff" stroke="#4a86d1" stroke-width="0.8"/>
<text x="207.79999999999998" y="131" font-size="5.8" fill="#4a86d1" textLength="13.6" lengthAdjust="spacingAndGlyphs">7.1M</text>
<text x="218.2" y="191.4" font-size="6.4" fill="#444" text-anchor="middle">Apr</text>
<rect x="250.8" y="116.5" width="3.4" height="3.4" fill="#fff" stroke="#4a86d1" stroke-width="0.8"/>
<text x="239.7" y="115.8" font-size="5.8" fill="#4a86d1" textLength="13.6" lengthAdjust="spacingAndGlyphs">7.5M</text>
<text x="252.5" y="191.4" font-size="6.4" fill="#444" text-anchor="middle">May</text>
<text x="311.5" y="38.9" font-size="9.6" fill="#2e6cc4" textLength="52" lengthAdjust="spacingAndGlyphs" stroke="#2e6cc4" stroke-width="0.2">Funding Status</text>
<rect x="312" y="46.8" width="26.2" height="52" fill="#ec6b24"/>
<rect x="312" y="98.8" width="26.2" height="66" fill="#2f6cc5"/>
<text x="316.5" y="94" font-size="11.4" fill="#fff" textLength="13.6" lengthAdjust="spacingAndGlyphs" font-weight="bold">46</text>
<text x="330.7" y="94" font-size="6.8" fill="#fff" textLength="4.9" lengthAdjust="spacingAndGlyphs" font-weight="bold">%</text>
<text x="316.7" y="155.6" font-size="11.4" fill="#fff" textLength="13.6" lengthAdjust="spacingAndGlyphs" font-weight="bold">54</text>
<text x="330.7" y="155.6" font-size="6.8" fill="#fff" textLength="4.9" lengthAdjust="spacingAndGlyphs" font-weight="bold">%</text>
<text x="348.4" y="82.8" font-size="8.7" fill="#ec6b24" textLength="27.6" lengthAdjust="spacingAndGlyphs" font-weight="bold">$590M</text>
<text x="348" y="91" font-size="5.6" fill="#ec6b24" textLength="33.5" lengthAdjust="spacingAndGlyphs">Funding Gap</text>
<text x="348.4" y="153.2" font-size="8.7" fill="#2e6cc4" textLength="27.6" lengthAdjust="spacingAndGlyphs" font-weight="bold">$681M</text>
<text x="348" y="162.3" font-size="5.6" fill="#2e6cc4" textLength="19.5" lengthAdjust="spacingAndGlyphs">Funded</text>
<rect x="288" y="171" width="100.5" height="21.2" fill="#dfe5f2"/>
<g transform="translate(300.8,182)" fill="#5a5a5a"><path d="M-5.2 -7.4C-3.6 -8.6 -1.4 -8.2 0 -7.6C1.4 -8.2 3.6 -8.6 5.2 -7.4C4.6 -5.6 3.4 -4.8 2.6 -4.4H-2.6C-3.4 -4.8 -4.6 -5.6 -5.2 -7.4Z"/><path d="M-3 -4C-6.6 -2 -7.8 1.6 -7.4 4.6C-7.1 7 -6 7.8 -4.6 7.8H4.6C6 7.8 7.1 7 7.4 4.6C7.8 1.6 6.6 -2 3 -4Z"/><rect x="-3.1" y="-1" width="6.2" height="6.6" rx="1" fill="#6e6e6e"/></g>
<text x="300.8" y="187" font-size="6.2" fill="#fff" font-weight="bold" text-anchor="middle">$</text>
<text x="313.1" y="187.4" font-size="9.6" fill="#6a6a6a" textLength="27.6" lengthAdjust="spacingAndGlyphs" stroke="#6a6a6a" stroke-width="0.2">$1.27B</text>
<text x="348" y="180" font-size="5.6" fill="#777" textLength="37" lengthAdjust="spacingAndGlyphs">Total funding</text>
<text x="348" y="187.3" font-size="5.6" fill="#777" textLength="36.5" lengthAdjust="spacingAndGlyphs">requirements</text>
<text x="402" y="38.9" font-size="9.6" fill="#2e6cc4" textLength="136.5" lengthAdjust="spacingAndGlyphs" stroke="#2e6cc4" stroke-width="0.2">Emergency food assistance by modality</text>
<use href="#i_food" x="420.5" y="74.2"/>
<use href="#i_voucher" x="420.5" y="119.2"/>
<use href="#i_cash" x="420.5" y="165.2"/>
<text x="448.6" y="68.7" font-size="12.4" fill="#2e6cc4" textLength="17.8" lengthAdjust="spacingAndGlyphs" stroke="#2e6cc4" stroke-width="0.15">6M</text>
<text x="448.3" y="77.5" font-size="6.6" fill="#4f8fd6" textLength="25.2" lengthAdjust="spacingAndGlyphs">PEOPLE</text>
<text x="448.3" y="85.3" font-size="6.6" fill="#666" textLength="78.5" lengthAdjust="spacingAndGlyphs">reached with in-kind assistance</text>
<text x="450.2" y="114.7" font-size="12.4" fill="#2e6cc4" textLength="48.6" lengthAdjust="spacingAndGlyphs" stroke="#2e6cc4" stroke-width="0.15">900,000</text>
<text x="449.9" y="124" font-size="6.6" fill="#4f8fd6" textLength="25.2" lengthAdjust="spacingAndGlyphs">PEOPLE</text>
<text x="449.9" y="132.6" font-size="6.6" fill="#666" textLength="56" lengthAdjust="spacingAndGlyphs">reached with vouchers</text>
<text x="448.5" y="160.9" font-size="12.4" fill="#2e6cc4" textLength="48.6" lengthAdjust="spacingAndGlyphs" stroke="#2e6cc4" stroke-width="0.15">200,000</text>
<text x="448.2" y="169.3" font-size="6.6" fill="#4f8fd6" textLength="25.2" lengthAdjust="spacingAndGlyphs">PEOPLE</text>
<text x="448.2" y="177" font-size="6.6" fill="#666" textLength="45" lengthAdjust="spacingAndGlyphs">reached with cash</text>
<text x="550.6" y="38.9" font-size="9.6" fill="#2e6cc4" textLength="102.5" lengthAdjust="spacingAndGlyphs" stroke="#2e6cc4" stroke-width="0.2">Increase of Commodity prices</text>
<text x="550.6" y="47.8" font-size="6.3" fill="#4f8fd6" textLength="91" lengthAdjust="spacingAndGlyphs">(since beginning of the crisis)</text>
<use href="#i_beans" x="568.2" y="73.4"/>
<text x="590.3" y="67.4" font-size="11" fill="#2e6cc4" textLength="53" lengthAdjust="spacingAndGlyphs">Red beans</text>
<text x="595" y="86.2" font-size="8.2" fill="#ec6b24" textLength="20.6" lengthAdjust="spacingAndGlyphs" font-weight="bold">104%</text>
<use href="#uparrow" x="636.4" y="69.1"/>
<use href="#i_wheat1" x="568.2" y="119.2"/>
<text x="590.3" y="113.4" font-size="11" fill="#2e6cc4" textLength="59" lengthAdjust="spacingAndGlyphs">Wheat flour</text>
<text x="593.7" y="136" font-size="8.2" fill="#ec6b24" textLength="16.3" lengthAdjust="spacingAndGlyphs" font-weight="bold">60%</text>
<use href="#uparrow" x="636.4" y="117.2"/>
<use href="#i_oil" x="568.2" y="165.2"/>
<text x="590.3" y="160" font-size="11" fill="#2e6cc4" textLength="67.5" lengthAdjust="spacingAndGlyphs">Vegetable oil</text>
<text x="593.7" y="182" font-size="8.2" fill="#ec6b24" textLength="16.3" lengthAdjust="spacingAndGlyphs" font-weight="bold">39%</text>
<use href="#uparrow" x="636.4" y="163.1"/>
<text x="146.8" y="205.4" font-size="9.6" fill="#2e6cc4" textLength="161" lengthAdjust="spacingAndGlyphs" stroke="#2e6cc4" stroke-width="0.2">Humanitarian Response monitoring indicators</text>
<use href="#i_wheat2" x="116.4" y="244.3"/>
<use href="#i_cow" x="263" y="243.5"/>
<text x="143.7" y="231.6" font-size="13.4" fill="#2e6cc4" textLength="30" lengthAdjust="spacingAndGlyphs" stroke="#2e6cc4" stroke-width="0.15">7.1M</text>
<text x="143.7" y="241.3" font-size="6.6" fill="#4f8fd6" textLength="25.2" lengthAdjust="spacingAndGlyphs">PEOPLE</text>
<text x="143.7" y="249.9" font-size="6.4" fill="#3b78c9" textLength="77" lengthAdjust="spacingAndGlyphs">provided with emergency food</text>
<text x="143.7" y="258.7" font-size="6.4" fill="#3b78c9" textLength="26" lengthAdjust="spacingAndGlyphs">assistance</text>
<text x="290" y="231.6" font-size="13.4" fill="#2e6cc4" textLength="49.5" lengthAdjust="spacingAndGlyphs" stroke="#2e6cc4" stroke-width="0.15">871,000</text>
<text x="290" y="241.3" font-size="6.6" fill="#4f8fd6" textLength="25.2" lengthAdjust="spacingAndGlyphs">PEOPLE</text>
<text x="290" y="249.9" font-size="6.4" fill="#3b78c9" textLength="65" lengthAdjust="spacingAndGlyphs">provided with agriculture,</text>
<text x="290" y="258.7" font-size="6.4" fill="#3b78c9" textLength="78" lengthAdjust="spacingAndGlyphs">livestock or fisheries assistance</text>
<text x="189.5" y="283.2" font-size="9.6" fill="#2e6cc4" textLength="53" lengthAdjust="spacingAndGlyphs" stroke="#2e6cc4" stroke-width="0.2">Food Insecurity</text>
<use href="#i_fam" x="116.4" y="311.2"/>
<use href="#i_famg" x="245.6" y="308.8"/>
<text x="144.9" y="303.4" font-size="13.2" fill="#2e6cc4" textLength="30" lengthAdjust="spacingAndGlyphs" stroke="#2e6cc4" stroke-width="0.15">9.4M</text>
<text x="144.9" y="311.8" font-size="6.5" fill="#4f8fd6" textLength="68.3" lengthAdjust="spacingAndGlyphs">MODERATELY FOOD</text>
<text x="144.9" y="320" font-size="6.5" fill="#4f8fd6" textLength="60" lengthAdjust="spacingAndGlyphs">INSECURE PEOPLE</text>
<text x="144.9" y="328" font-size="6.4" fill="#666" textLength="63.5" lengthAdjust="spacingAndGlyphs">targeted with emergency</text>
<text x="144.9" y="336" font-size="6.4" fill="#666" textLength="38" lengthAdjust="spacingAndGlyphs">food assistance</text>
<text x="271.9" y="303.4" font-size="13.2" fill="#2e6cc4" textLength="29.7" lengthAdjust="spacingAndGlyphs" stroke="#2e6cc4" stroke-width="0.15">8.4M</text>
<text x="271.9" y="311.8" font-size="6.5" fill="#4f8fd6" textLength="54" lengthAdjust="spacingAndGlyphs">SEVERELY FOOD</text>
<text x="271.9" y="320" font-size="6.5" fill="#4f8fd6" textLength="59.5" lengthAdjust="spacingAndGlyphs">INSECURE PEOPLE</text>
<text x="271.9" y="328" font-size="6.4" fill="#666" textLength="62.2" lengthAdjust="spacingAndGlyphs">targeted with emergency</text>
<text x="271.9" y="336" font-size="6.4" fill="#666" textLength="37.5" lengthAdjust="spacingAndGlyphs">food assistance</text>
<text x="138" y="358.2" font-size="9.6" fill="#2e6cc4" textLength="129" lengthAdjust="spacingAndGlyphs" stroke="#2e6cc4" stroke-width="0.2">Beneficiaries reached by sex and age</text>
<path d="M204.05 373.28A43.4 43.4 0 0 1 244.80 416.60L228.50 416.60A27.1 27.1 0 0 0 203.05 389.55Z" fill="#5b9bdb"/>
<path d="M244.80 416.60A43.4 43.4 0 0 1 204.13 459.91L203.10 443.65A27.1 27.1 0 0 0 228.50 416.60Z" fill="#fbbc17"/>
<path d="M204.13 459.91A43.4 43.4 0 0 1 158.00 416.60L174.30 416.60A27.1 27.1 0 0 0 203.10 443.65Z" fill="#ec6b24"/>
<path d="M158.00 416.60A43.4 43.4 0 0 1 204.05 373.28L203.05 389.55A27.1 27.1 0 0 0 174.30 416.60Z" fill="#a6a6a6"/>
<text x="110.3" y="384.2" font-size="7.6" fill="#666" textLength="12.6" lengthAdjust="spacingAndGlyphs">Boys</text>
<text x="106.4" y="397.8" font-size="14" fill="#999999" textLength="25" lengthAdjust="spacingAndGlyphs" stroke="#fff" stroke-width="0.3">26%</text>
<text x="110" y="446.4" font-size="7.6" fill="#666" textLength="12.5" lengthAdjust="spacingAndGlyphs">Girls</text>
<text x="106.4" y="460.3" font-size="14" fill="#ec6b24" textLength="25" lengthAdjust="spacingAndGlyphs" stroke="#fff" stroke-width="0.3">26%</text>
<text x="278.5" y="384.2" font-size="7.6" fill="#555" textLength="21.3" lengthAdjust="spacingAndGlyphs">Women</text>
<text x="273.6" y="397.8" font-size="14" fill="#5b9bdb" textLength="24.5" lengthAdjust="spacingAndGlyphs" stroke="#fff" stroke-width="0.3">24%</text>
<text x="276.8" y="446.4" font-size="7.6" fill="#555" textLength="12.2" lengthAdjust="spacingAndGlyphs">Men</text>
<text x="273.6" y="460.3" font-size="14" fill="#f5b400" textLength="24.5" lengthAdjust="spacingAndGlyphs" stroke="#fff" stroke-width="0.3">24%</text>
<use href="#f_boy" x="145.7" y="403.4"/>
<use href="#f_girl" x="145.9" y="460.5"/>
<use href="#f_woman" x="258.1" y="403.4"/>
<use href="#f_man" x="258.3" y="460.7"/>
<text x="481" y="203.2" font-size="9.6" fill="#2e6cc4" textLength="127.7" lengthAdjust="spacingAndGlyphs" stroke="#2e6cc4" stroke-width="0.2">Districts at heightened risk of famine</text>
<text x="409.7" y="219.4" font-size="13.2" fill="#2e6cc4" textLength="37.7" lengthAdjust="spacingAndGlyphs" stroke="#2e6cc4" stroke-width="0.15">10.4M</text>
<text x="409.7" y="227.2" font-size="6.5" fill="#4f8fd6" textLength="48.5" lengthAdjust="spacingAndGlyphs">PEOPLE LIVING</text>
<text x="409.7" y="234.8" font-size="6.4" fill="#666" textLength="56.5" lengthAdjust="spacingAndGlyphs">in 107 famine districts</text>
<text x="496.8" y="219.4" font-size="13.2" fill="#2e6cc4" textLength="29.5" lengthAdjust="spacingAndGlyphs" stroke="#2e6cc4" stroke-width="0.15">3.6M</text>
<text x="496.8" y="227.2" font-size="6.5" fill="#4f8fd6" textLength="62" lengthAdjust="spacingAndGlyphs">PEOPLE TARGETED</text>
<text x="496.8" y="234.8" font-size="6.4" fill="#666" textLength="56.5" lengthAdjust="spacingAndGlyphs">in 107 famine districts</text>
<text x="573.7" y="219.4" font-size="13.2" fill="#2e6cc4" textLength="29.5" lengthAdjust="spacingAndGlyphs" stroke="#2e6cc4" stroke-width="0.15">3.4M</text>
<text x="573.7" y="227.2" font-size="6.5" fill="#4f8fd6" textLength="59" lengthAdjust="spacingAndGlyphs">PEOPLE REACHED</text>
<text x="573.7" y="234.8" font-size="6.4" fill="#666" textLength="74.5" lengthAdjust="spacingAndGlyphs">with assistance in 107 famine</text>
<text x="573.7" y="243.2" font-size="6.4" fill="#666" textLength="20" lengthAdjust="spacingAndGlyphs">districts</text>
<use href="#i_drought" x="432.1" y="257.4"/>
<use href="#i_fam" x="521" y="257.2"/>
<use href="#i_reached" x="609" y="257.2"/>
<polygon points="386.2,325.9 388.4,324.2 391,323.7 394.1,325.5 398.1,328.6 402.9,329.5 407.4,328.1 415.3,327.3 424.1,327.3 431.2,326.8 440,326.9 450,329.5 460,331 482.2,331.2 489.5,340.1 494.7,340.1 502,334.9 510.3,321.4 521.7,306.8 533.2,301.6 547.7,295.8 563.7,293 626.1,284.2 647.3,331.1 648.6,331.6 656.8,347.9 647,351.4 639.8,354.9 634.6,359.4 632.3,364.8 633,370.6 632.3,376 612,383.5 591.2,391 578,397.1 564.9,399.9 555.5,404.6 546.2,410.2 538.7,415.8 533.2,419.9 530.1,418.9 527.5,418.7 520,420.6 512.5,424.4 505,427.6 500.6,428.9 494.8,431.5 489,433.2 483.2,435.4 475.9,436.1 467.2,436.5 458.5,437.6 451.2,440.2 445.4,443.8 441.1,446.2 437.4,448.7 434.9,450.6 426.2,451.8 422.4,453.7 418.7,455.5 412.4,458 406.2,459.3 400,457.4 395,456.2 393.3,457.2 391.2,458.2 392.9,455.6 391.8,452.4 388.7,446.2 386.9,440 387.5,435 386.9,428.7 385.4,425.3 382.5,416.6 379.6,406.4 378.1,399.1 377,397.4 375.7,392.4 374.5,387.4 373.2,382.4 371.4,377.4 371.4,373.7 373.2,369.9 375.1,366.8 375.1,361.2 373.8,355.6 378.2,353.7 380.7,351.2 383.8,348.7 385.6,348.2 386.6,348 385.3,344.5 384,341.4 385.3,338.3 384,334.8 385.7,331.2 386.6,328.6" fill="#fbe8df" stroke="none" stroke-width="0" stroke-linejoin="round"/>
<clipPath id="mapclip"><polygon points="386.2,325.9 388.4,324.2 391,323.7 394.1,325.5 398.1,328.6 402.9,329.5 407.4,328.1 415.3,327.3 424.1,327.3 431.2,326.8 440,326.9 450,329.5 460,331 482.2,331.2 489.5,340.1 494.7,340.1 502,334.9 510.3,321.4 521.7,306.8 533.2,301.6 547.7,295.8 563.7,293 626.1,284.2 647.3,331.1 648.6,331.6 656.8,347.9 647,351.4 639.8,354.9 634.6,359.4 632.3,364.8 633,370.6 632.3,376 612,383.5 591.2,391 578,397.1 564.9,399.9 555.5,404.6 546.2,410.2 538.7,415.8 533.2,419.9 530.1,418.9 527.5,418.7 520,420.6 512.5,424.4 505,427.6 500.6,428.9 494.8,431.5 489,433.2 483.2,435.4 475.9,436.1 467.2,436.5 458.5,437.6 451.2,440.2 445.4,443.8 441.1,446.2 437.4,448.7 434.9,450.6 426.2,451.8 422.4,453.7 418.7,455.5 412.4,458 406.2,459.3 400,457.4 395,456.2 393.3,457.2 391.2,458.2 392.9,455.6 391.8,452.4 388.7,446.2 386.9,440 387.5,435 386.9,428.7 385.4,425.3 382.5,416.6 379.6,406.4 378.1,399.1 377,397.4 375.7,392.4 374.5,387.4 373.2,382.4 371.4,377.4 371.4,373.7 373.2,369.9 375.1,366.8 375.1,361.2 373.8,355.6 378.2,353.7 380.7,351.2 383.8,348.7 385.6,348.2 386.6,348 385.3,344.5 384,341.4 385.3,338.3 384,334.8 385.7,331.2 386.6,328.6"/></clipPath>
<g clip-path="url(#mapclip)">
<polygon points="386.6,348 385.3,344.5 384,341.4 385.3,338.3 384,334.8 385.7,331.2 386.6,328.6 386.2,325.9 388.4,324.2 391,323.7 394.1,325.5 398.1,328.6 398.1,335.7 397.2,339.2 395.9,345.4 391.5,343.6 388.8,344.5 388.4,348.5" fill="#f59c63" stroke="none" stroke-width="0" stroke-linejoin="round"/>
<polygon points="405.2,329.9 407.4,328.1 415.3,327.3 424.1,327.3 431.4,326.6 431.2,337 427.7,338.7 425,342.3 420.6,344 416.2,347.6 412.7,346.2 410.9,344.5 405.2,344" fill="#f59c63" stroke="none" stroke-width="0" stroke-linejoin="round"/>
<polygon points="375.6,367.3 378,366.3 378.9,363.1 382.2,362.1 385,360.3 386.8,357 388.7,357.5 390.1,359.8 391.5,361.7 392,363.5 390.1,364.9 391,367.3 392.5,368.7 392,371 392.9,373.4 392,375.2 393.4,376.6 392.5,378.5 394,380.6 391,381 387.8,378.5 386.8,376.2 387.8,373.8 387.3,371 385,369.6 381.2,369.6 378,370.5 375.6,370.1" fill="#f59c63" stroke="none" stroke-width="0" stroke-linejoin="round"/>
<polygon points="401.3,364.9 403.2,364 407.4,364.9 411.2,364.2 412.1,365.9 410.2,367.7 407.4,367.3 406,369.1 404.1,367.7 401.8,366.8" fill="#f59c63" stroke="none" stroke-width="0" stroke-linejoin="round"/>
<polygon points="377.5,387.2 380.3,384.4 385,384.9 388.2,386.3 391,387.7 391.5,384.4 394.3,383 397.1,381.6 399.9,384 399,387.2 400.9,390 401.3,393.3 399.9,396.1 397.1,397 395.7,399.4 392.9,400.3 392.5,403.1 393.4,405.9 391.5,407.8 392.5,410.1 393.9,411.5 393.4,415 392.3,419.2 393.7,421.5 391.4,423.9 393.2,426.2 391.4,428.1 389,429 387.2,427.2 385.8,424.4 383.9,420.1 382.5,415.3 381.2,410.6 382.2,407.3 384,404.6 385.4,401.7 384,399.9 382.2,398.5 379.4,396.1 377,392.8 376.5,390" fill="#f59c63" stroke="none" stroke-width="0" stroke-linejoin="round"/>
<polygon points="401.3,398.5 404.6,397 407.4,394.7 411.2,393.8 413.6,395.6 416,398.5 415.5,401.3 415,405 412.1,405.4 409.3,405.9 407.4,407.8 405.5,409.2 402.7,408.7 400.9,406.9 403.2,404.1 404.1,401.3" fill="#f59c63" stroke="none" stroke-width="0" stroke-linejoin="round"/>
<polygon points="425.3,391.4 428.1,389.1 429,386.3 432.3,385.4 436.1,384.4 437.5,386.3 436.5,390 434.7,393.3 432.8,396.1 430.9,399.4 429,398.5 426.7,395.2 426.2,392.8" fill="#f59c63" stroke="none" stroke-width="0" stroke-linejoin="round"/>
<polygon points="393.9,411.5 397.1,410.1 400.9,409.2 402.7,411.5 405.5,413.4 409.3,415.3 407.4,418.1 407.3,420.6 405.9,423 403.1,423.9 400.3,422.5 398.4,423.9 397,421.1 397.9,418.7 395.1,417.8 393.4,415.3" fill="#f59c63" stroke="none" stroke-width="0" stroke-linejoin="round"/>
<polygon points="393.7,424.8 397,423.9 400.3,425.3 404,426.7 408.7,428.1 413.4,429 416.2,430 417.6,431.8 416.2,435.1 414.3,437.5 411.5,437 410.5,433.7 407.3,432.3 404,433.7 402.1,436 399.8,436 397.5,433.2 396.5,430 394.2,427.6" fill="#f59c63" stroke="none" stroke-width="0" stroke-linejoin="round"/>
<polygon points="414.3,437.5 416.6,437.5 415.2,442.1 412.6,441.6 413.4,438.8" fill="#f59c63" stroke="none" stroke-width="0" stroke-linejoin="round"/>
<polygon points="396.5,444.9 398.9,442.1 402.1,440.7 405.9,441.2 409.6,442.1 413.4,442.6 414.3,444.9 411.9,446.8 409.6,446.3 407.3,444.5 404,444.9 401.2,444.9 398.9,445.9" fill="#f59c63" stroke="none" stroke-width="0" stroke-linejoin="round"/>
<polygon points="417.8,426.7 420.2,425.3 422,427.6 425.8,428.1 426.7,430.4 425.3,432.3 422,431.8 419.7,432.8 417.8,430.9" fill="#f59c63" stroke="none" stroke-width="0" stroke-linejoin="round"/>
<polygon points="417.4,435.1 420.2,433.2 424.8,432.3 429.5,433.2 436.1,435.1 439.8,436.5 440.7,438.4 439.3,442.1 437,445.9 436.1,450.4 431.4,451.3 425.8,452.2 426.2,447.7 428.1,445.9 427.2,443.1 423,442.1 417.4,441.7 416.9,438.4" fill="#f59c63" stroke="none" stroke-width="0" stroke-linejoin="round"/>
<polygon points="440.7,438.4 440.3,435.1 442.1,432.8 439.8,430 442.6,428.1 444,424.4 447.3,424.8 448.2,427.2 446.8,430 449.2,432.3 454.1,431.4 459.2,430 467.2,426.3 475.9,425.4 483.2,421.8 489,420.3 492.6,420.3 493.4,433 483.2,436.4 467.2,437.5 453,440.3 448.2,444.1 443.5,446.9 437.9,449.2 437,445.9 439.3,442.1" fill="#f59c63" stroke="none" stroke-width="0" stroke-linejoin="round"/>
<polygon points="480,401.3 488.3,400.8 495.6,400.8 501.3,397.7 504.4,401.8 501.8,403.9 499.2,407 498.7,415.9 495.6,416.4 493,418 490.4,409.6 481,409.1" fill="#f59c63" stroke="none" stroke-width="0" stroke-linejoin="round"/>
<polygon points="489.5,340.1 494.7,340.1 502,334.9 510.3,321.4 521.7,306.8 533.2,301.6 547.7,295.8 562.6,293.1 562.5,325 557.5,337.4 551.8,347.5 544.3,353.1 534.9,355.9 523.7,358.7 514.3,363.4 512.5,366.2 518.1,368.1 520,370.9 514.3,373.7 490,374.6 470.8,376.3 484.9,360.8 488.2,356.6" fill="#f59c63" stroke="none" stroke-width="0" stroke-linejoin="round"/>
<polygon points="535.9,365.3 542.4,366.2 537.8,371.8 535.9,370.9" fill="#f59c63" stroke="none" stroke-width="0" stroke-linejoin="round"/>
<polygon points="506,386.2 507.6,380 512.5,379.5 515.3,377.5 520.9,374.6 526.5,380.3 524.7,382.1 521.1,382.6 518.5,384.7 516.4,387.8 518,389.9 520,390.4 521.6,392.5 522.6,395.6 521.6,398.2 518.5,399.8 515.9,399.2 516.9,400.8 525.8,403.4 532,401.3 533.6,404.4 532,408.6 529.9,412.8 527.3,414.8 522.6,414.3 519.5,412.2 515.4,408.1 510.2,406 504.4,401.8 501.3,397.7 505.5,395.1 507.6,392.5 505,389.9" fill="#f59c63" stroke="none" stroke-width="0" stroke-linejoin="round"/>
<polygon points="533.6,393.5 536.8,391.5 544.3,393.4 553.7,395.2 556.5,399 554.6,402.7 546.2,404.6 540.6,406.5 537.2,404.4 534.1,400.8 532,398.2" fill="#f59c63" stroke="none" stroke-width="0" stroke-linejoin="round"/>
<polygon points="511.6,380.4 514.3,382.4 517,381.3 519.6,379.8 516.8,379.4" fill="#fbe8df" stroke="none" stroke-width="0" stroke-linejoin="round"/>
<polyline points="533.5,301.6 533.2,340 529,349 521.5,355.5" fill="none" stroke="#fdf1ea" stroke-width="0.4" stroke-linejoin="round" stroke-linecap="round"/>
<polyline points="521.5,355.5 526,360.5" fill="none" stroke="#fdf1ea" stroke-width="0.4" stroke-linejoin="round" stroke-linecap="round"/>
<polyline points="521.5,355.5 512,359.5 505,361.5 504.6,365 508,368" fill="none" stroke="#fdf1ea" stroke-width="0.4" stroke-linejoin="round" stroke-linecap="round"/>
<polyline points="504.6,362 496,364.4 491.5,367.6 488,365.5" fill="none" stroke="#fdf1ea" stroke-width="0.4" stroke-linejoin="round" stroke-linecap="round"/>
<polyline points="388,336 392,333 396,335" fill="none" stroke="#fdf1ea" stroke-width="0.4" stroke-linejoin="round" stroke-linecap="round"/>
<polyline points="390,340 394,338 397,340" fill="none" stroke="#fdf1ea" stroke-width="0.4" stroke-linejoin="round" stroke-linecap="round"/>
<polyline points="414,341 418,337" fill="none" stroke="#fdf1ea" stroke-width="0.4" stroke-linejoin="round" stroke-linecap="round"/>
<polyline points="575,296 576,330 566,350 560,368" fill="none" stroke="#fdf1ea" stroke-width="0.4" stroke-linejoin="round" stroke-linecap="round"/>
<polyline points="600,290 596,318" fill="none" stroke="#fdf1ea" stroke-width="0.4" stroke-linejoin="round" stroke-linecap="round"/>
<polyline points="576,330 601,333" fill="none" stroke="#fdf1ea" stroke-width="0.4" stroke-linejoin="round" stroke-linecap="round"/>
<polyline points="560,368 575.5,372" fill="none" stroke="#fdf1ea" stroke-width="0.4" stroke-linejoin="round" stroke-linecap="round"/>
<polyline points="560,368 548,388 545,393.4" fill="none" stroke="#fdf1ea" stroke-width="0.4" stroke-linejoin="round" stroke-linecap="round"/>
<polyline points="612,345 628,352 640,354.5" fill="none" stroke="#fdf1ea" stroke-width="0.4" stroke-linejoin="round" stroke-linecap="round"/>
<polyline points="606,360 618,368 632.3,370" fill="none" stroke="#fdf1ea" stroke-width="0.4" stroke-linejoin="round" stroke-linecap="round"/>
<polyline points="592,366 600,380 598,388" fill="none" stroke="#fdf1ea" stroke-width="0.4" stroke-linejoin="round" stroke-linecap="round"/>
<polyline points="540,372 548,376 560,368" fill="none" stroke="#fdf1ea" stroke-width="0.4" stroke-linejoin="round" stroke-linecap="round"/>
<polyline points="527,372 535,382 533,391" fill="none" stroke="#fdf1ea" stroke-width="0.4" stroke-linejoin="round" stroke-linecap="round"/>
<polyline points="430,340 440,348 452,346 462,352 470,362" fill="none" stroke="#fdf1ea" stroke-width="0.4" stroke-linejoin="round" stroke-linecap="round"/>
<polyline points="440,348 438,360 444,368" fill="none" stroke="#fdf1ea" stroke-width="0.4" stroke-linejoin="round" stroke-linecap="round"/>
<polyline points="455,333 458,345" fill="none" stroke="#fdf1ea" stroke-width="0.4" stroke-linejoin="round" stroke-linecap="round"/>
<polyline points="470,333 472,348 480,356" fill="none" stroke="#fdf1ea" stroke-width="0.4" stroke-linejoin="round" stroke-linecap="round"/>
<polyline points="455,378 462,388 460,398" fill="none" stroke="#fdf1ea" stroke-width="0.4" stroke-linejoin="round" stroke-linecap="round"/>
<polyline points="438,372 446,376 448,386" fill="none" stroke="#fdf1ea" stroke-width="0.4" stroke-linejoin="round" stroke-linecap="round"/>
<polyline points="470,380 476,392 474,402" fill="none" stroke="#fdf1ea" stroke-width="0.4" stroke-linejoin="round" stroke-linecap="round"/>
<polyline points="462,402 470,408 478,404" fill="none" stroke="#fdf1ea" stroke-width="0.4" stroke-linejoin="round" stroke-linecap="round"/>
<polyline points="389,427 392,434 390,442 396,450" fill="none" stroke="#fdf1ea" stroke-width="0.4" stroke-linejoin="round" stroke-linecap="round"/>
<polyline points="400,448 408,452 418,450" fill="none" stroke="#fdf1ea" stroke-width="0.4" stroke-linejoin="round" stroke-linecap="round"/>
<polyline points="430,404 436,412 432,420" fill="none" stroke="#fdf1ea" stroke-width="0.4" stroke-linejoin="round" stroke-linecap="round"/>
<polyline points="447,414 452,420" fill="none" stroke="#fdf1ea" stroke-width="0.4" stroke-linejoin="round" stroke-linecap="round"/>
<polyline points="378,398 384,402 383,410" fill="none" stroke="#fdf1ea" stroke-width="0.4" stroke-linejoin="round" stroke-linecap="round"/>
<polyline points="376,372 382,376 380,382" fill="none" stroke="#fdf1ea" stroke-width="0.4" stroke-linejoin="round" stroke-linecap="round"/>
<polyline points="440.5,436.8 437,451" fill="none" stroke="#fdf1ea" stroke-width="0.4" stroke-linejoin="round" stroke-linecap="round"/>
<polyline points="467.2,425.9 468,437" fill="none" stroke="#fdf1ea" stroke-width="0.4" stroke-linejoin="round" stroke-linecap="round"/>
<polyline points="488.3,400.8 490.4,409.6" fill="none" stroke="#fdf1ea" stroke-width="0.4" stroke-linejoin="round" stroke-linecap="round"/>
<polyline points="490.4,409.6 496.5,409 498.7,415.9" fill="none" stroke="#fdf1ea" stroke-width="0.4" stroke-linejoin="round" stroke-linecap="round"/>
<polyline points="494,401 495.6,416.4" fill="none" stroke="#fdf1ea" stroke-width="0.4" stroke-linejoin="round" stroke-linecap="round"/>
<polyline points="507.6,392.5 513,395.5 516.9,400.8" fill="none" stroke="#fdf1ea" stroke-width="0.4" stroke-linejoin="round" stroke-linecap="round"/>
<polyline points="516.9,400.8 513.5,407" fill="none" stroke="#fdf1ea" stroke-width="0.4" stroke-linejoin="round" stroke-linecap="round"/>
<polyline points="544.3,393.4 546.2,404.6" fill="none" stroke="#fdf1ea" stroke-width="0.4" stroke-linejoin="round" stroke-linecap="round"/>
<polyline points="506,386.2 510,384.5 512.5,379.5" fill="none" stroke="#fdf1ea" stroke-width="0.4" stroke-linejoin="round" stroke-linecap="round"/>
<polyline points="396,331 392,336" fill="none" stroke="#fdf1ea" stroke-width="0.4" stroke-linejoin="round" stroke-linecap="round"/>
<polyline points="415,334 421,339" fill="none" stroke="#fdf1ea" stroke-width="0.4" stroke-linejoin="round" stroke-linecap="round"/>
<polyline points="383,362 388,366" fill="none" stroke="#fdf1ea" stroke-width="0.4" stroke-linejoin="round" stroke-linecap="round"/>
<polyline points="384,388 390,392 389,398" fill="none" stroke="#fdf1ea" stroke-width="0.4" stroke-linejoin="round" stroke-linecap="round"/>
</g>
<polyline points="386.6,348 388.7,349 394.3,348.8 400.9,348.1 409.6,347.6 413.5,342.7 418.8,337.9 424.1,336.5 431.2,336.1 431.2,326.8" fill="none" stroke="#4a4a4a" stroke-width="0.6" stroke-linejoin="round" stroke-linecap="round"/>
<polyline points="394.3,348.8 394.5,353.7 394.1,358.4 395.1,363.1 394.8,367.3 397.1,366.3 399,367.7 399.5,372.4 399.9,375.2 397,378 395.2,381.5" fill="none" stroke="#4a4a4a" stroke-width="0.6" stroke-linejoin="round" stroke-linecap="round"/>
<polyline points="409.6,347.6 413,351.8 414,357.5 413.5,362.1 415.9,364.5 413,365.9 411.6,371 410.8,376.1" fill="none" stroke="#4a4a4a" stroke-width="0.6" stroke-linejoin="round" stroke-linecap="round"/>
<polyline points="415.9,364.5 423.2,365.2 426.1,371.8 428.3,376.1" fill="none" stroke="#4a4a4a" stroke-width="0.6" stroke-linejoin="round" stroke-linecap="round"/>
<polyline points="415.2,358.7 420,365.8 425,366.6 436.6,369.9 448.3,373.3 453.3,368.3 468.2,364.9 484.9,360.8 488.2,356.6 489.5,340.1" fill="none" stroke="#4a4a4a" stroke-width="0.6" stroke-linejoin="round" stroke-linecap="round"/>
<polyline points="514.3,373.7 490,374.6 471.6,375.8 459.9,384.9 452.4,391.6 448.3,397.4 447.4,404" fill="none" stroke="#4a4a4a" stroke-width="0.6" stroke-linejoin="round" stroke-linecap="round"/>
<polyline points="514.3,373.7 509.5,378.5 507.6,380 506,386.2 505,389.9 507.6,392.5 505.5,395.1 501.3,397.7 504.4,401.8 510.2,406 515.4,408.1 519.5,412.2 522.6,414.3 528.9,415.4 531,418.5 533.2,419.9" fill="none" stroke="#4a4a4a" stroke-width="0.6" stroke-linejoin="round" stroke-linecap="round"/>
<polyline points="626.1,284.2 616.1,295 611.1,307.4 608.6,322.4 601.1,333.6 587.4,343.6 578.7,349.9 577.1,356.9 576.2,364.8 575,376 580,381 587.4,383.5 591.2,391" fill="none" stroke="#4a4a4a" stroke-width="0.6" stroke-linejoin="round" stroke-linecap="round"/>
<polyline points="493.4,432.5 492.6,422.7 491.9,418.4 489,416.2 483.2,416.9 477.4,416.2 473,418.4 470.8,416.9 468.6,413.3 465,412.5 462.1,414.7 461.4,419.1 457.7,422.7 452.6,424.9 448.3,424.2 444.6,424.2" fill="none" stroke="#4a4a4a" stroke-width="0.6" stroke-linejoin="round" stroke-linecap="round"/>
<polyline points="430.9,399.4 434.7,398.5 436.1,398.9 436.5,403.1 438.9,406.4 442.1,405.9 446.4,403.6 447.4,404 452.4,402.4 455.8,409.9 461.4,411.8 465,412.5" fill="none" stroke="#4a4a4a" stroke-width="0.6" stroke-linejoin="round" stroke-linecap="round"/>
<polyline points="395.2,381.5 401,381 406,382.5 410.8,376.1 416,378 421,380.5 425,382.5 428.5,384 432.3,385.4" fill="none" stroke="#4a4a4a" stroke-width="0.6" stroke-linejoin="round" stroke-linecap="round"/>
<polyline points="424.5,381 428.3,376.1" fill="none" stroke="#4a4a4a" stroke-width="0.6" stroke-linejoin="round" stroke-linecap="round"/>
<polyline points="399.9,396.1 403,396.4 408,394.2 413,394.6 417.4,394.7 422,393.3 425.3,391.4" fill="none" stroke="#4a4a4a" stroke-width="0.6" stroke-linejoin="round" stroke-linecap="round"/>
<polyline points="399.9,396.1 401.3,398.5 400.5,403 397,407 393.4,405.9" fill="none" stroke="#4a4a4a" stroke-width="0.6" stroke-linejoin="round" stroke-linecap="round"/>
<polyline points="400.9,406.9 402.7,408.7 408,406.9 413.6,408.3 418.3,411.1 423.4,412.9" fill="none" stroke="#4a4a4a" stroke-width="0.6" stroke-linejoin="round" stroke-linecap="round"/>
<polyline points="430.9,399.4 428.1,402.2 426.7,405.9 425.3,409.7 423.4,412.9 424.4,416.2 422,420 422,424.4 417.8,426.7 417.4,430.9 419.7,432.8 416.9,435.1 416.6,437.5 415.2,442.1 411,442.6 407.3,444.5 402.1,444.9 398.9,446.3 397.5,449.6 395.1,453.4 393.2,455.7" fill="none" stroke="#4a4a4a" stroke-width="0.6" stroke-linejoin="round" stroke-linecap="round"/>
<polyline points="397.5,422.5 402.1,423.9 405.9,425.3 409.6,426.7 414.3,427.6 418,427.2" fill="none" stroke="#4a4a4a" stroke-width="0.6" stroke-linejoin="round" stroke-linecap="round"/>
<polyline points="387.2,430 391.4,428.1 393.7,424.8 397.5,422.5 398.4,419 395.3,417.2 393.4,415.3" fill="none" stroke="#4a4a4a" stroke-width="0.6" stroke-linejoin="round" stroke-linecap="round"/>
<polyline points="424.4,416.2 429.5,414.8 434.2,414.4 437,417.2 437.9,422.5 439.8,421.5 443.5,419.7 444.5,423.4 441.2,426.2 442.1,429 439.8,430 440.3,435.1 440.7,438.4 439.3,442.1 437,445.9 436.1,450.1" fill="none" stroke="#4a4a4a" stroke-width="0.6" stroke-linejoin="round" stroke-linecap="round"/>
<polyline points="419.7,432.8 424.8,432.3 429.5,433.2 436.1,435.1 440.7,438.4" fill="none" stroke="#4a4a4a" stroke-width="0.6" stroke-linejoin="round" stroke-linecap="round"/>
<polyline points="425.8,452 431.4,451 436.1,450.1" fill="none" stroke="#4a4a4a" stroke-width="0.6" stroke-linejoin="round" stroke-linecap="round"/>
<polyline points="375.1,369.3 380,371.5 385.7,372.5 386.3,378 382,381 378.8,385.5 381,391 386.1,397.7 388.3,400.6 387,404.9 389,406.4 391.9,410 389,418 389.7,422.4 391.9,424.6 393.7,426.2 391.2,428.2 389.5,433" fill="none" stroke="#4a4a4a" stroke-width="0.6" stroke-linejoin="round" stroke-linecap="round"/>
<polyline points="388.3,400.6 391.9,401.3 395.7,399.4 399.4,394.9" fill="none" stroke="#4a4a4a" stroke-width="0.6" stroke-linejoin="round" stroke-linecap="round"/>
<polyline points="386.3,378 390.1,379.2 395.2,381.5" fill="none" stroke="#4a4a4a" stroke-width="0.6" stroke-linejoin="round" stroke-linecap="round"/>
<polygon points="386.2,325.9 388.4,324.2 391,323.7 394.1,325.5 398.1,328.6 402.9,329.5 407.4,328.1 415.3,327.3 424.1,327.3 431.2,326.8 440,326.9 450,329.5 460,331 482.2,331.2 489.5,340.1 494.7,340.1 502,334.9 510.3,321.4 521.7,306.8 533.2,301.6 547.7,295.8 563.7,293 626.1,284.2 647.3,331.1 648.6,331.6 656.8,347.9 647,351.4 639.8,354.9 634.6,359.4 632.3,364.8 633,370.6 632.3,376 612,383.5 591.2,391 578,397.1 564.9,399.9 555.5,404.6 546.2,410.2 538.7,415.8 533.2,419.9 530.1,418.9 527.5,418.7 520,420.6 512.5,424.4 505,427.6 500.6,428.9 494.8,431.5 489,433.2 483.2,435.4 475.9,436.1 467.2,436.5 458.5,437.6 451.2,440.2 445.4,443.8 441.1,446.2 437.4,448.7 434.9,450.6 426.2,451.8 422.4,453.7 418.7,455.5 412.4,458 406.2,459.3 400,457.4 395,456.2 393.3,457.2 391.2,458.2 392.9,455.6 391.8,452.4 388.7,446.2 386.9,440 387.5,435 386.9,428.7 385.4,425.3 382.5,416.6 379.6,406.4 378.1,399.1 377,397.4 375.7,392.4 374.5,387.4 373.2,382.4 371.4,377.4 371.4,373.7 373.2,369.9 375.1,366.8 375.1,361.2 373.8,355.6 378.2,353.7 380.7,351.2 383.8,348.7 385.6,348.2 386.6,348 385.3,344.5 384,341.4 385.3,338.3 384,334.8 385.7,331.2 386.6,328.6" fill="none" stroke="#4a4a4a" stroke-width="0.7" stroke-linejoin="round"/>
<circle cx="367.6" cy="384.2" r="0.7" fill="#fbe8df" stroke="#777" stroke-width="0.35"/>
<circle cx="369.6" cy="385.4" r="0.7" fill="#fbe8df" stroke="#777" stroke-width="0.35"/>
<circle cx="370.8" cy="383.4" r="0.7" fill="#fbe8df" stroke="#777" stroke-width="0.35"/>
<circle cx="368.6" cy="382" r="0.7" fill="#fbe8df" stroke="#777" stroke-width="0.35"/>
<text x="399.9" y="342.6" font-size="5.7" font-weight="bold" fill="#444" text-anchor="middle">Sa'ada</text>
<text x="449.9" y="352.9" font-size="5.7" font-weight="bold" fill="#444" text-anchor="middle">Al Jawf</text>
<text x="384.4" y="362.1" font-size="5.7" font-weight="bold" fill="#444" text-anchor="middle">Hajjah</text>
<text x="403.6" y="365.2" font-size="5.7" font-weight="bold" fill="#444" text-anchor="middle">Amran</text>
<text x="409.4" y="378.4" font-size="5" font-weight="bold" fill="#444" text-anchor="middle" textLength="38.5" lengthAdjust="spacingAndGlyphs">Amanat Al Asimah</text>
<text x="444.6" y="382.8" font-size="5.7" font-weight="bold" fill="#444" text-anchor="middle">Marib</text>
<text x="392.5" y="386.4" font-size="5.7" font-weight="bold" fill="#444" text-anchor="middle">Al Mahwit</text>
<text x="413" y="392.2" font-size="5.7" font-weight="bold" fill="#444" text-anchor="middle">Sana'a</text>
<text x="376.6" y="396.3" font-size="5.7" font-weight="bold" fill="#444" text-anchor="middle" textLength="33" lengthAdjust="spacingAndGlyphs">Al Hudaydah</text>
<text x="413.8" y="403.8" font-size="5.7" font-weight="bold" fill="#444" text-anchor="middle">Dhamar</text>
<text x="391.9" y="409.2" font-size="5.7" font-weight="bold" fill="#444" text-anchor="middle">Raymah</text>
<text x="409.4" y="419.4" font-size="5.7" font-weight="bold" fill="#444" text-anchor="middle">Ibb</text>
<text x="444.6" y="413.4" font-size="5.7" font-weight="bold" fill="#444" text-anchor="middle">Al Bayda</text>
<text x="426.2" y="427.1" font-size="5.7" font-weight="bold" fill="#444" text-anchor="middle">Al Dhale'e</text>
<text x="482.4" y="395.7" font-size="5.7" font-weight="bold" fill="#444" text-anchor="middle">Shabwah</text>
<text x="469.4" y="428.2" font-size="5.7" font-weight="bold" fill="#444" text-anchor="middle">Abyan</text>
<text x="401.8" y="440.2" font-size="5.7" font-weight="bold" fill="#444" text-anchor="middle">Taizz</text>
<text x="421.8" y="447.1" font-size="5.7" font-weight="bold" fill="#444" text-anchor="middle">Lahj</text>
<text x="427.4" y="461.0" font-size="5.7" font-weight="bold" fill="#444" text-anchor="middle">Aden</text>
<text x="538.7" y="361.8" font-size="5.7" font-weight="bold" fill="#444" text-anchor="middle">Hadramaut</text>
<text x="622.9" y="336.5" font-size="5.7" font-weight="bold" fill="#444" text-anchor="middle">Al Maharah</text>
<use href="#i_map" x="574.7" y="432.2"/>
<text x="598.5" y="422" font-size="13.2" fill="#2e6cc4" textLength="22" lengthAdjust="spacingAndGlyphs" stroke="#2e6cc4" stroke-width="0.15">107</text>
<text x="598.5" y="430.6" font-size="6.5" fill="#4f8fd6" textLength="32" lengthAdjust="spacingAndGlyphs" stroke="#4f8fd6" stroke-width="0.2">DISTRICTS</text>
<text x="598.5" y="438.2" font-size="6.4" fill="#666" textLength="45.4" lengthAdjust="spacingAndGlyphs">at heightened risk</text>
<text x="598.5" y="445.8" font-size="6.4" fill="#666" textLength="23.6" lengthAdjust="spacingAndGlyphs">of famine</text>
</svg>
</body></html>
